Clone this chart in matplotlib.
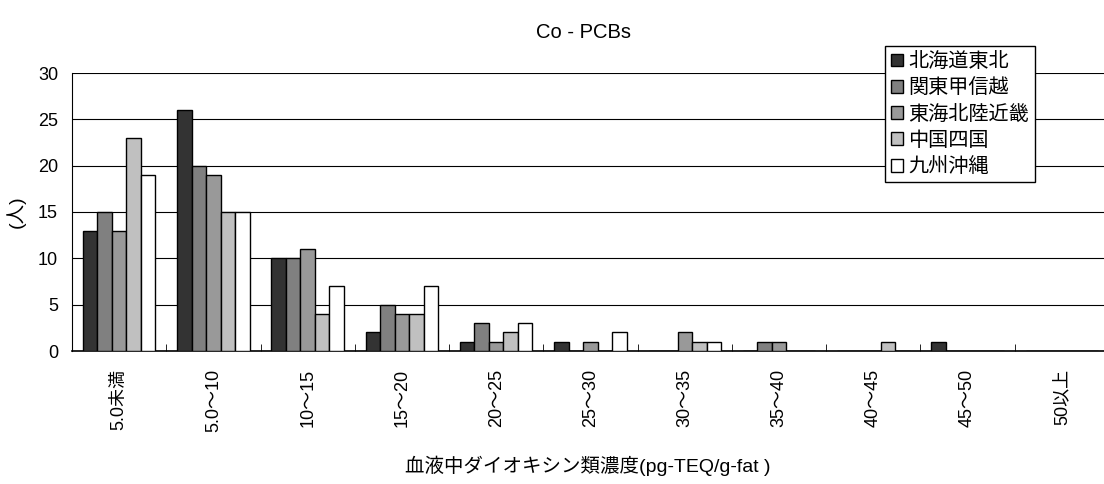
import numpy as np
import matplotlib
matplotlib.use('Agg')
import matplotlib.pyplot as plt

plt.rcParams['font.family'] = ['Liberation Sans', 'Noto Sans CJK JP', 'DejaVu Sans']

# 区分
categorias = ['5.0未満', '5.0～10', '10～15', '15～20', '20～25', '25～30',
              '30～35', '35～40', '40～45', '45～50', '50以上']
regiones = ['北海道東北', '関東甲信越', '東海北陸近畿', '中国四国', '九州沖縄']

hokkaido_tohoku = [13, 26, 10, 2, 1, 1, 0, 0, 0, 1, 0]
kanto_koshinetsu = [15, 20, 10, 5, 3, 0, 0, 1, 0, 0, 0]
tokai_hokuriku_kinki = [13, 19, 11, 4, 1, 1, 2, 1, 0, 0, 0]
chugoku_shikoku = [23, 15, 4, 4, 2, 0, 1, 0, 1, 0, 0]
kyushu_okinawa = [19, 15, 7, 7, 3, 2, 1, 0, 0, 0, 0]

colores = ['#333333', '#808080', '#999999', '#c0c0c0', '#ffffff']

series = [hokkaido_tohoku, kanto_koshinetsu, tokai_hokuriku_kinki,
          chugoku_shikoku, kyushu_okinawa]

fig = plt.figure(figsize=(11.04, 4.84), dpi=100)
ax = fig.add_axes([72/1104, 133/484, 1037/1104, 278/484])

x = np.arange(len(categorias))
ancho = 1/6.5
for i, (vals, col, nom) in enumerate(zip(series, colores, regiones)):
    ax.bar(x + (i - 2)*ancho, vals, ancho, color=col, edgecolor='black',
           linewidth=1, label=nom, zorder=3)

ax.set_xlim(-0.5, len(categorias) - 0.5)
ax.set_ylim(0, 30)
ax.set_yticks(range(0, 31, 5))
ax.yaxis.grid(True, color='black', linewidth=0.8, zorder=0)
ax.set_axisbelow(True)

ax.set_xticks(x)
ax.set_xticklabels(categorias, rotation=90, fontsize=13)
ax.set_xticks(np.arange(0.5, len(categorias) - 0.5, 1), minor=True)
ax.tick_params(axis='x', which='major', length=0, pad=13)
ax.tick_params(axis='x', which='minor', direction='in', length=5, color='black')
ax.tick_params(axis='y', direction='in', length=0, labelsize=13, pad=10)

for s in ['top', 'right']:
    ax.spines[s].set_visible(False)
ax.spines['left'].set_color('black')
ax.spines['bottom'].set_color('black')
ax.spines['bottom'].set_linewidth(1.2)

fig.text(583/1104, 1 - 32/484, 'Co - PCBs', ha='center', va='center', fontsize=14.5)
fig.text(588/1104, 1 - 466/484, '血液中ダイオキシン類濃度(pg-TEQ/g-fat )',
         ha='center', va='center', fontsize=14)
fig.text(16/1104, 1 - 212/484, '(人)', ha='center', va='center',
         rotation=90, fontsize=14)

leg = ax.legend(loc='upper left', bbox_to_anchor=(885/1104, 1 - 46/484),
                bbox_transform=fig.transFigure, fontsize=14.5, frameon=True,
                fancybox=False, edgecolor='black', framealpha=1,
                handlelength=0.6, handleheight=0.6, handletextpad=0.25,
                labelspacing=0.36, borderpad=0.3, borderaxespad=0)
leg.get_frame().set_linewidth(1)
leg.set_zorder(5)

fig.savefig('out.png', dpi=100)
